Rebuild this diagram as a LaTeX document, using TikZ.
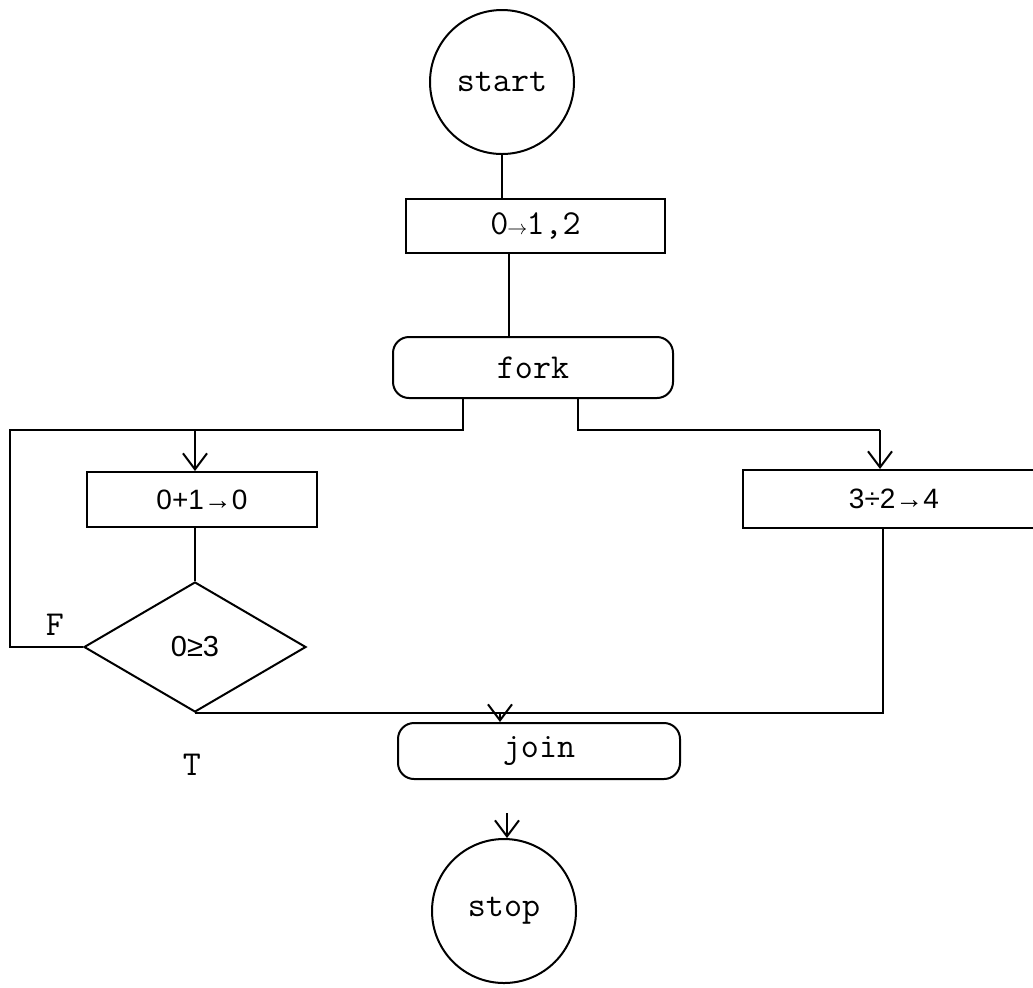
\documentclass[tikz,border=0pt]{standalone}
\usepackage{fontspec}
\usetikzlibrary{shapes.geometric,arrows.meta,calc,positioning}
\newfontfamily\flowsans{Liberation Sans}
\newcommand{\monoarrow}{\makebox[0.525em]{\fontsize{10}{12}\selectfont$\rightarrow$}}
\tikzset{
  term/.style={circle,draw,line width=1pt,minimum size=72pt,inner sep=0pt,
    font=\ttfamily\fontsize{17.5}{20}\selectfont},
  opbox/.style={rectangle,draw,line width=1pt,inner sep=0pt},
  ctlbox/.style={rectangle,rounded corners=8pt,draw,line width=1pt,inner sep=0pt,
    font=\ttfamily\fontsize{17.5}{20}\selectfont},
  decision/.style={diamond,draw,line width=1pt,inner sep=0pt,
    minimum width=111pt,minimum height=65pt,
    font=\flowsans\fontsize{14.5}{16}\selectfont},
  monotext/.style={font=\ttfamily\fontsize{17.5}{20}\selectfont},
  sanstext/.style={font=\flowsans\fontsize{14}{16}\selectfont},
  flow/.style={line width=1pt},
  arr/.style={flow,-{Straight Barb[length=8pt,width=12pt]}}
}

\begin{document}
\begin{tikzpicture}[x=0.5pt,y=-0.5pt]
    \useasboundingbox (0,0) rectangle (1033,987);

    % main column
    \node[term] (start) at (502,82) {start};
    \node[opbox,monotext,minimum width=129.5pt,minimum height=27pt] (init) at (535.5,226) {0\monoarrow1,2};
    \node[ctlbox,minimum width=140pt,minimum height=30.5pt] (fork) at (533,367.5) {fork};

    % left branch
    \node[opbox,sanstext,minimum width=115pt,minimum height=27.5pt] (incr) at (202,499.5) {0+1→0};
    \node[decision] (cmp) at (195,647) {0≥3};
    \node[monotext] (flabel) at (55,625) {F};
    \node[monotext] (tlabel) at (192,765) {T};

    % right branch
    \node[opbox,sanstext,minimum width=151pt,minimum height=29pt] (div) at (894,499) {3÷2→4};

    \node[ctlbox,minimum width=141pt,minimum height=28pt] (join) at (539,751) {join};
    \node[term] (stop) at (504,911) {stop};

    \coordinate (loopL) at (10,430);
    \coordinate (loopR) at (880,430);
    \coordinate (stopIn) at ($(stop.north)+(3,-25)$);

    \draw[flow] (start.south) -- (start.south |- init.north);
    \draw[flow] ([xshift=3.5pt]start.south |- init.south) -- ([xshift=3.5pt]start.south |- fork.north);
    \draw[flow] ([xshift=-35pt]fork.south) |- (loopL) |- (cmp.west);
    \draw[arr] (cmp.north |- loopL) -- (cmp.north |- incr.north);
    \draw[flow] (cmp.north |- incr.south) -- (cmp.north);
    \draw[flow] ([xshift=22.5pt]fork.south) |- (loopR);
    \draw[arr] (loopR) -- (loopR |- div.north);
    \draw[flow] ([xshift=1.5pt]loopR |- div.south) |- (cmp.south);
    \draw[arr] ([xshift=-19.5pt]join.north |- cmp.south) -- ([xshift=-19.5pt]join.north);
    \draw[arr] (stopIn) -- (stopIn |- stop.north);
\end{tikzpicture}
\end{document}
